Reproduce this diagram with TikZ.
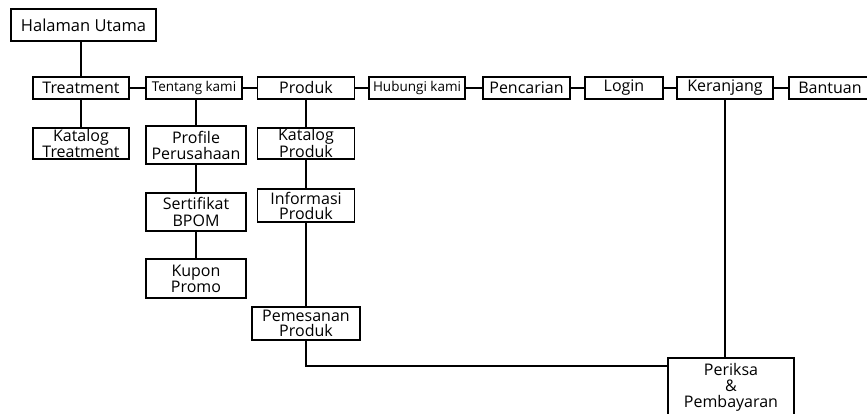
\documentclass[tikz,border=0pt]{standalone}
\usepackage{fontspec}
\setmainfont{Open Sans}
\usetikzlibrary{positioning}

\tikzset{
  menu/.style={draw, line width=1.4pt, align=center, inner sep=0pt, font=\fontsize{16}{15}\selectfont},
  kecil/.style={font=\fontsize{13.5}{14}\selectfont},
  link/.style={line width=1.4pt}
}

\begin{document}
\begin{tikzpicture}[x=1pt, y=-1pt]
\useasboundingbox (0,0) rectangle (867,414);

% halaman utama
\node[menu, minimum width=145pt, minimum height=32pt, font=\fontsize{16.5}{15}\selectfont] (utama) at (83.5,25) {Halaman Utama};

% menu utama
\node[menu, minimum width=96pt, minimum height=22pt] (treatment) at (81,88) {Treatment};
\node[menu, kecil, minimum width=96pt, minimum height=22pt] (tentang) at (194,88) {Tentang kami};
\node[menu, minimum width=97pt, minimum height=22pt] (produk) at (306,88) {Produk};
\node[menu, kecil, minimum width=96pt, minimum height=22pt] (hubungi) at (417,88) {Hubungi kami};
\node[menu, minimum width=87pt, minimum height=22pt] (pencarian) at (526.5,88) {Pencarian};
\node[menu, minimum width=78pt, minimum height=22pt] (login) at (624,88) {Login};
\node[menu, minimum width=96pt, minimum height=22pt] (keranjang) at (725,88) {Keranjang};
\node[menu, minimum width=82pt, minimum height=22pt] (bantuan) at (830,88) {Bantuan};

% sub menu
\node[menu, minimum width=96pt, minimum height=31pt] (katalogtrt) at (81,143.5) {Katalog\\Treatment};
\node[menu, minimum width=100pt, minimum height=38pt, font=\fontsize{16}{16}\selectfont] (profile) at (196,145) {Profile\\Perusahaan};
\node[menu, minimum width=100pt, minimum height=38pt, font=\fontsize{16}{17}\selectfont] (sertifikat) at (196,212) {Sertifikat\\BPOM};
\node[menu, minimum width=100pt, minimum height=39pt, font=\fontsize{16}{16}\selectfont] (kupon) at (196,278.5) {Kupon\\Promo};
\node[menu, minimum width=97pt, minimum height=31pt] (katalogprod) at (306,143.5) {Katalog\\Produk};
\node[menu, minimum width=97pt, minimum height=33pt] (informasi) at (306,205.5) {Informasi\\Produk};
\node[menu, minimum width=108pt, minimum height=33pt] (pemesanan) at (306,323.5) {Pemesanan\\Produk};
\node[menu, minimum width=126pt, minimum height=58pt, font=\fontsize{16}{16}\selectfont] (periksa) at (731,387) {Periksa\\\&\\Pembayaran};

% garis
\draw[link] (treatment.north) -- (treatment.north |- utama.south);
\foreach \a/\b in {treatment/tentang, tentang/produk, produk/hubungi, hubungi/pencarian, pencarian/login, login/keranjang, keranjang/bantuan}
  \draw[link] (\a) -- (\b);
\draw[link] (treatment) -- (katalogtrt);
\draw[link] (profile.north) -- (profile.north |- tentang.south);
\draw[link] (profile) -- (sertifikat);
\draw[link] (sertifikat) -- (kupon);
\draw[link] (produk) -- (katalogprod);
\draw[link] (katalogprod) -- (informasi);
\draw[link] (informasi) -- (pemesanan);
\draw[link] (pemesanan.south) |- ([yshift=21pt]periksa.west);
\draw[link] (keranjang.south) -- (keranjang.south |- periksa.north);
\end{tikzpicture}
\end{document}
